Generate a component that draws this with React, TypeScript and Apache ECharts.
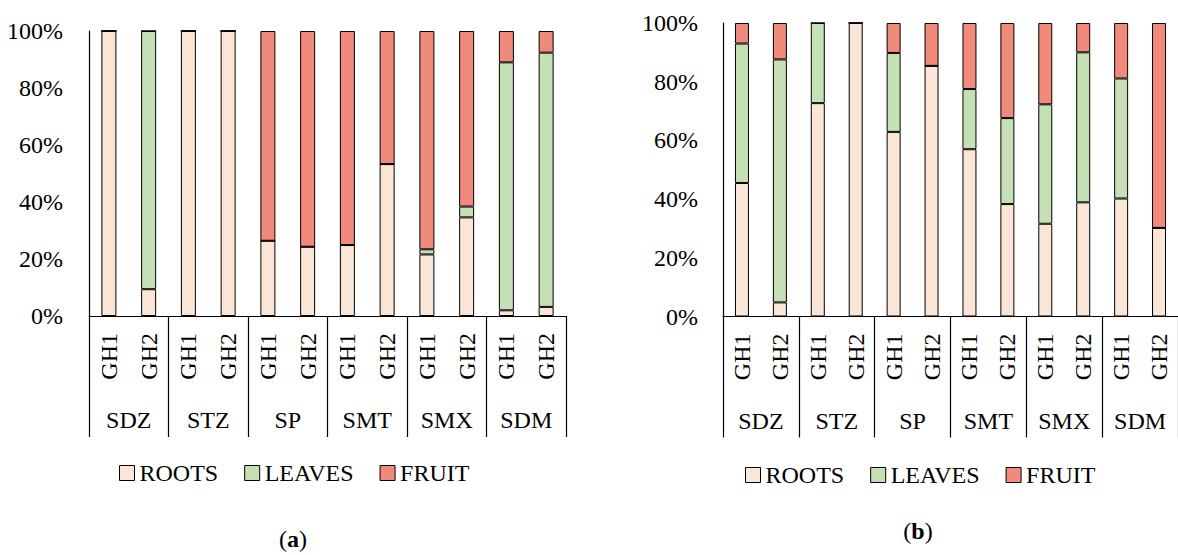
import React, { useEffect, useRef } from "react";
import * as echarts from "echarts";

const categories = ["GH1", "GH2", "GH1", "GH2", "GH1", "GH2", "GH1", "GH2", "GH1", "GH2", "GH1", "GH2"];
const groups = ["SDZ", "STZ", "SP", "SMT", "SMX", "SDM"];
const seriesNames = ["ROOTS", "LEAVES", "FRUIT"];
const yTicks = [0, 20, 40, 60, 80, 100];

// Panel (a)
const rootsA = [100, 9.4, 100, 100, 26.4, 24.3, 24.9, 53.3, 21.6, 34.6, 2.0, 3.2];
const leavesA = [0, 90.6, 0, 0, 0, 0, 0, 0, 1.8, 3.8, 87.0, 89.2];
const fruitA = [0, 0, 0, 0, 73.6, 75.7, 75.1, 46.7, 76.6, 61.6, 11.0, 7.6];

// Panel (b)
const rootsB = [45.5, 4.8, 72.7, 100, 62.9, 85.4, 57.0, 38.3, 31.6, 38.9, 40.2, 30.2];
const leavesB = [47.5, 82.8, 27.3, 0, 26.9, 0, 20.5, 29.3, 40.7, 51.1, 40.9, 0];
const fruitB = [7.0, 12.4, 0, 0, 10.2, 14.6, 22.5, 32.4, 27.7, 10.0, 18.9, 69.8];

const colors = ["#FBE5D6", "#C5E0B4", "#F08A7B"];
const FONT = "Liberation Serif";
const FS = 24;

export default function App() {
  const ref = useRef<HTMLDivElement>(null);
  useEffect(() => {
    if (!ref.current) return;
    const chart = echarts.init(ref.current, undefined, { renderer: "svg" });
    const txt = { fontFamily: FONT, fontSize: FS, color: "#000" };

    const makeAxes = (grid: number) => [
      {
        type: "category",
        gridIndex: grid,
        data: categories,
        position: "bottom",
        axisLine: { show: true, lineStyle: { color: "#000", width: 1.2 } },
        axisTick: { show: false },
        axisLabel: { ...txt, rotate: 90, margin: 17, interval: 0 },
      },
      {
        type: "category",
        gridIndex: grid,
        data: groups,
        position: "bottom",
        axisLine: { show: false },
        axisTick: { show: true, length: 121, lineStyle: { color: "#000", width: 1.2 } },
        axisLabel: { ...txt, margin: 104, verticalAlign: "middle", interval: 0 },
      },
    ];

    const makeY = (grid: number) => ({
      type: "value",
      gridIndex: grid,
      min: yTicks[0],
      max: yTicks[yTicks.length - 1],
      interval: 20,
      splitLine: { show: false },
      axisTick: { show: false },
      axisLine: { show: true, lineStyle: { color: "#000", width: 1.2 } },
      axisLabel: { ...txt, margin: grid === 0 ? 26 : 25, formatter: "{value}%" },
    });

    const makeSeries = (data: number[][], xIdx: number, yIdx: number, stack: string, bw: number) =>
      data.map((d, i) => ({
        type: "bar",
        name: seriesNames[i],
        stack,
        xAxisIndex: xIdx,
        yAxisIndex: yIdx,
        barWidth: bw,
        data: d,
        itemStyle: { color: colors[i], borderColor: "#000", borderWidth: 1 },
      }));

    const legendBase = {
      data: seriesNames,
      icon: "rect",
      itemWidth: 15,
      itemHeight: 15,
      itemGap: 26,
      padding: 0,
      selectedMode: false,
      textStyle: { ...txt },
      itemStyle: { borderColor: "#000", borderWidth: 1 },
    };

    const caption = (letter: string, x: number, y: number) => ({
      type: "text",
      x,
      y,
      style: {
        text: `{n|(}{b|${letter}}{n|)}`,
        align: "center",
        verticalAlign: "middle",
        rich: {
          n: { fontFamily: FONT, fontSize: FS, fill: "#000" },
          b: { fontFamily: FONT, fontSize: FS, fontWeight: "bold", fill: "#000" },
        },
      },
    });

    chart.setOption({
      animation: false,
      grid: [
        { left: 89, top: 31, width: 477, height: 285 },
        { left: 723, top: 23, width: 462, height: 293.5 },
      ],
      xAxis: [...makeAxes(0), ...makeAxes(1)],
      yAxis: [makeY(0), makeY(1)],
      legend: [
        { ...legendBase, left: 119, top: 461 },
        { ...legendBase, left: 745, top: 463 },
      ],
      series: [
        ...makeSeries([rootsA, leavesA, fruitA], 0, 0, "a", 15),
        ...makeSeries([rootsB, leavesB, fruitB], 2, 1, "b", 14),
      ],
      graphic: [caption("a", 293, 539), caption("b", 918, 531)],
    });
    return () => chart.dispose();
  }, []);
  return (
    <div
      ref={ref}
      style={{ position: "absolute", left: 0, top: 0, width: 1178, height: 555, background: "#fff" }}
    />
  );
}
